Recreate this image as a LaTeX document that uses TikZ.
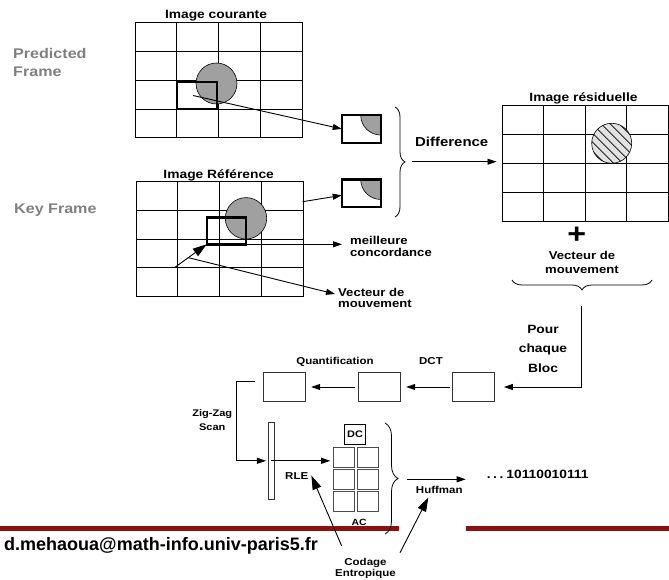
\documentclass[tikz,border=0pt]{standalone}
\usepackage{fontspec}
\setmainfont[FakeStretch=1.15]{Liberation Sans}
\newfontfamily\mailfont{Liberation Sans}
\usepackage{xcolor}
\definecolor{mhgray}{HTML}{7F7F7F}
\definecolor{mhblob}{HTML}{A0A0A0}
\definecolor{mhhatch}{HTML}{E2E2E2}
\definecolor{mhred}{HTML}{8C1212}
\usepackage{tikz}
\usetikzlibrary{arrows.meta,calc,positioning,decorations.pathreplacing}
\tikzset{
  >={Triangle[length=9pt,width=6pt]},
  framelbl/.style={font=\bfseries\fontsize{12}{14}\selectfont, inner sep=0pt},
  sidelbl/.style={font=\bfseries\fontsize{14}{17.6}\selectfont, text=mhgray, inner sep=0pt, align=left},
  notelbl/.style={font=\bfseries\fontsize{11.4}{12.6}\selectfont, inner sep=0pt},
  steplbl/.style={font=\bfseries\fontsize{10}{12}\selectfont, inner sep=0pt},
  frame/.style={draw=black, line width=1pt, inner sep=0pt, outer sep=0pt,
    minimum width=167pt, minimum height=115pt,
    path picture={
      \foreach \k in {1,2,3} {
        \draw[line width=1pt]
          ($(path picture bounding box.north west)!\k/4!(path picture bounding box.north east)$) --
          ($(path picture bounding box.south west)!\k/4!(path picture bounding box.south east)$);
        \draw[line width=1pt]
          ($(path picture bounding box.north west)!\k/4!(path picture bounding box.south west)$) --
          ($(path picture bounding box.north east)!\k/4!(path picture bounding box.south east)$);
      }}},
  blob/.style={fill=mhblob, draw=black, line width=0.6pt},
  matchbox/.style={draw=black, line width=2.4pt, inner sep=0pt, outer sep=0pt},
  blockfrag/.style={draw=black, line width=2.4pt, fill=white, inner sep=0pt, outer sep=0pt,
    minimum width=39pt, minimum height=27.7pt,
    path picture={\filldraw[fill=mhblob, draw=black, line width=0.6pt]
      (path picture bounding box.north east) circle (20pt);}},
  stepbox/.style={draw=black!80, line width=0.9pt, inner sep=0pt, outer sep=0pt,
    minimum width=42pt, minimum height=29.4pt},
  accell/.style={draw=black!70, line width=1.1pt, inner sep=0pt, minimum width=21pt, minimum height=20pt},
  arr/.style={->, line width=0.9pt},
  bigarr/.style={-{Triangle[length=14pt,width=9pt]}, line width=0.9pt},
  curly/.style={decorate, decoration={brace, amplitude=#1}, line width=0.8pt},
  redrule/.style={mhred, line width=4.5pt},
}

\begin{document}
\begin{tikzpicture}[x=1pt, y=-1pt]
\useasboundingbox (0,0) rectangle (669,580);
% side labels
\node[sidelbl, anchor=base west] (predicted) at (13,76.3) {Predicted\\Frame};
\node[sidelbl, anchor=base west] (keyframe) at (14,214) {Key Frame};
% current image
\node[frame] (curframe) at (218.5,80.5) {};
\node[framelbl, anchor=base] (curtitle) at (216,19) {Image courante};
\draw[blob] (216.5,83.5) circle (20.5pt);
\node[matchbox, minimum width=40pt, minimum height=27pt] (curmatch) at (197,95.5) {};
% reference image
\node[frame] (refframe) at (219.7,239.2) {};
\node[framelbl, anchor=base] (reftitle) at (218.7,178.7) {Image Référence};
\draw[blob] (246,218.3) circle (20.7pt);
\node[matchbox, minimum width=39.3pt, minimum height=26.6pt] (refmatch) at (226.35,231) {};
% blocks compared
\node[blockfrag] (curblock) at (361.2,128.9) {};
\node[blockfrag] (refblock) at (361.2,193.3) {};
\draw[arr] ([xshift=-4pt]curmatch.center) -- (curblock.west);
\coordinate (refedge) at (302.7,201.7);
\draw[arr] (refedge) -- ([yshift=-2pt]refblock.west);
% residual image
\node[frame, minimum width=166pt] (resframe) at (585,163.5) {};
\node[framelbl, anchor=base] (restitle) at (583.5,101.5) {Image résiduelle};
\fill[mhhatch] (611.7,143.3) circle (20pt);
\begin{scope}
  \clip (611.7,143.3) circle (20pt);
  \foreach \d in {-36,-27,...,36}
    \draw[line width=0.8pt] ({611.7+\d-25},118.3) -- ({611.7+\d+25},168.3);
\end{scope}
\draw[line width=0.6pt] (611.7,143.3) circle (20pt);
% difference
\draw[curly=10pt] (395,107) -- (395,217);
\coordinate (difftail) at (411.7,161.7);
\draw[arr, shorten >=5.5pt] (difftail) -- (difftail -| resframe.west);
\node[anchor=base west, font=\bfseries\fontsize{13}{15}\selectfont, inner sep=0pt] (difflbl) at (415,146.3) {Difference};
% plus motion vector
\node[font=\bfseries\fontsize{28}{28}\selectfont, inner sep=0pt] (plus) at (576.7,235) {+};
\node[notelbl, anchor=base, align=center, font=\bfseries\fontsize{11.4}{14.3}\selectfont] (resvec) at (582,273.5) {Vecteur de\\mouvement};
\draw[curly=10pt] (652,280) -- (512,280);
% motion vector annotations
\coordinate (mvtail) at (175,267.3);
\draw[bigarr] (mvtail) -- (refmatch.south west);
\node[notelbl, anchor=base west, align=left] (bestlbl) at (350,256.7) {meilleure\\concordance};
\draw[arr, shorten >=8pt] (refmatch.south east) -- (refmatch.south east -| bestlbl.west);
\node[notelbl, anchor=base west, align=left, font=\bfseries\fontsize{11.4}{11.7}\selectfont] (veclbl) at (338,307.7) {Vecteur de\\mouvement};
\coordinate (vectip) at (335,294);
\draw[arr] ($(mvtail)!0.42!(refmatch.south west)$) -- (vectip);
% block pipeline
\node[stepbox] (blockbox) at (473.9,387) {};
\node[stepbox] (dctbox) at (379.2,387) {};
\node[stepbox] (quantbox) at (284.2,387) {};
\coordinate (blocstart) at (581,306);
\draw[arr, shorten >=9pt] (blocstart) |- (blockbox.east);
\draw[arr, shorten <=3pt, shorten >=6pt] (blockbox.west) -- (dctbox.east);
\draw[arr, shorten <=3pt, shorten >=6pt] (dctbox.west) -- (quantbox.east);
\node[anchor=base, align=center, inner sep=0pt, font=\bfseries\fontsize{12}{19.5}\selectfont] (bloclbl) at (543,372.3) {Pour\\chaque\\Bloc};
\node[steplbl, anchor=base] (dctlbl) at (431,364.3) {DCT};
\node[steplbl, anchor=base] (quantlbl) at (335,364) {Quantification};
% zig-zag scan
\node[draw=black!80, line width=0.8pt, fill=white, inner sep=0pt, minimum width=5.7pt, minimum height=77pt] (scanbar) at (271.2,460.8) {};
\coordinate (zzstart) at (255,381.7);
\draw[arr, shorten >=2pt] (zzstart) -- ++(-18.3,0) |- (scanbar.west);
\node[steplbl, anchor=base, align=center, font=\bfseries\fontsize{9.6}{13.3}\selectfont] (zzlbl) at (212.3,430) {Zig-Zag\\Scan};
% coefficients
\node[draw=black, line width=0.9pt, inner sep=0pt, minimum width=21.4pt, minimum height=20.3pt, font=\bfseries\fontsize{9.5}{11}\selectfont] (dc) at (355,434.2) {DC};
\foreach \r/\y in {1/457.3,2/479.4,3/501.5}
  \foreach \c/\x in {1/343.8,2/367.8}
    \node[accell] (ac\r\c) at (\x,\y) {};
\draw[arr, shorten >=2.6pt] (scanbar.center) -- (scanbar.center -| ac11.west);
\node[steplbl, anchor=base] (rle) at (296.7,479) {RLE};
\node[steplbl, anchor=base, font=\bfseries\fontsize{9}{11}\selectfont] (aclbl) at (359,525) {AC};
% footer rule
\draw[redrule] (0,528.3) -- (399,528.3);
\draw[redrule] (465.7,528.3) -- (669,528.3);
% entropy coding
\draw[curly=13pt] (385,423) -- (385,534);
\coordinate (huffin) at (407.3,479.3);
\coordinate (huffout) at (465.7,479.3);
\draw[arr] (huffin) -- (huffout);
\node[steplbl, anchor=base] (huff) at (439.3,493.7) {Huffman};
\node[anchor=base west, inner sep=0pt, font=\bfseries\fontsize{12}{14}\selectfont] (bits) at (486.7,478) {.\kern2.5pt.\kern2.5pt.\kern3pt10110010111};
\node[steplbl, anchor=base, align=center, font=\bfseries\fontsize{10}{11}\selectfont] (codage) at (365.5,576.7) {Codage\\Entropique};
\coordinate (codageL) at (341.7,546);
\coordinate (codageR) at (400,552.7);
\draw[bigarr] (codageL) -- ([xshift=3pt]rle.east);
\draw[bigarr] (codageR) -- ([xshift=-11pt,yshift=-3.5pt]huff.south);
% address
\node[anchor=base east, inner sep=0pt, font=\mailfont\bfseries\fontsize{18}{20}\selectfont] (mail) at (318,550) {d.mehaoua@math-info.univ-paris5.fr};
\end{tikzpicture}
\end{document}
